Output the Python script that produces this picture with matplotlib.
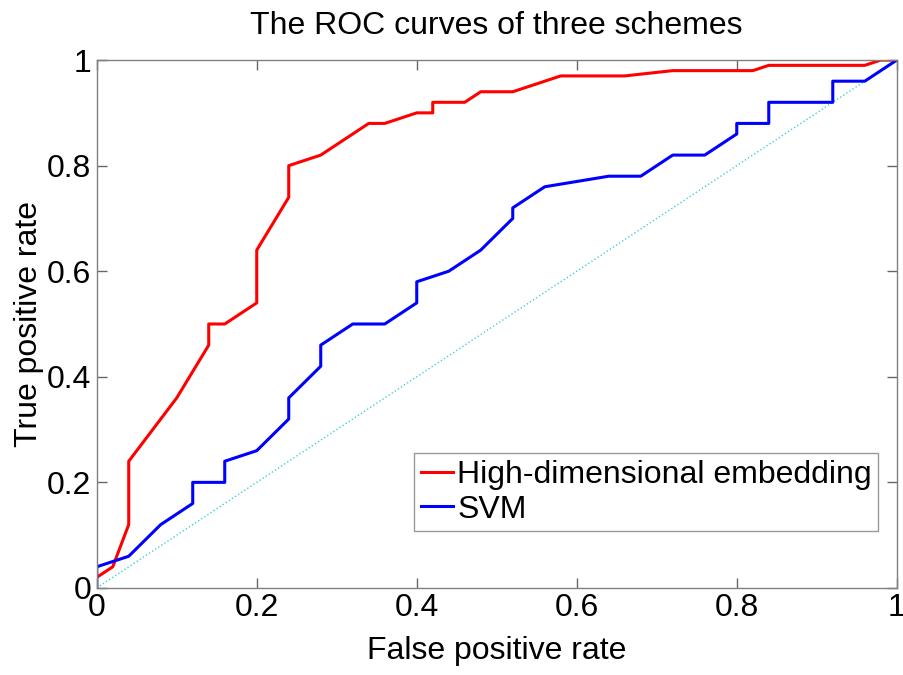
import numpy as np
import matplotlib.pyplot as plt

# ROC points
fpr_hde = [0, 0.02, 0.04, 0.04, 0.10, 0.14, 0.14, 0.16, 0.20, 0.20, 0.24, 0.24, 0.28, 0.34, 0.36,
           0.40, 0.42, 0.42, 0.46, 0.48, 0.52, 0.58, 0.66, 0.72, 0.82, 0.84, 0.96, 0.98, 1.0]
tpr_hde = [0.02, 0.04, 0.12, 0.24, 0.36, 0.46, 0.50, 0.50, 0.54, 0.64, 0.74, 0.80, 0.82, 0.88, 0.88,
           0.90, 0.90, 0.92, 0.92, 0.94, 0.94, 0.97, 0.97, 0.98, 0.98, 0.99, 0.99, 1.0, 1.0]

fpr_svm = [0, 0, 0.04, 0.08, 0.12, 0.12, 0.16, 0.16, 0.20, 0.24, 0.24, 0.28, 0.28, 0.32, 0.36,
           0.40, 0.40, 0.44, 0.48, 0.52, 0.52, 0.56, 0.64, 0.68, 0.72, 0.76, 0.80, 0.80, 0.84,
           0.84, 0.92, 0.92, 0.96, 1.0]
tpr_svm = [0, 0.04, 0.06, 0.12, 0.16, 0.20, 0.20, 0.24, 0.26, 0.32, 0.36, 0.42, 0.46, 0.50, 0.50,
           0.54, 0.58, 0.60, 0.64, 0.70, 0.72, 0.76, 0.78, 0.78, 0.82, 0.82, 0.86, 0.88, 0.88,
           0.92, 0.92, 0.96, 0.96, 1.0]

ticks = [0, 0.2, 0.4, 0.6, 0.8, 1]
tick_labels = ['0', '0.2', '0.4', '0.6', '0.8', '1']

plt.rcParams['font.family'] = ['Liberation Sans', 'DejaVu Sans']

fig = plt.figure(figsize=(9.04, 6.75), dpi=100)
ax = fig.add_axes([0.107, 0.129, 0.885, 0.782])

ax.plot([0, 1], [0, 1], ':', color='#40d0d0', lw=1)
ax.plot(fpr_hde, tpr_hde, color='red', lw=2.2, label='High-dimensional embedding')
ax.plot(fpr_svm, tpr_svm, color='blue', lw=2.2, label='SVM')

ax.set_xlim(0, 1)
ax.set_ylim(0, 1)
ax.set_xticks(ticks)
ax.set_xticklabels(tick_labels)
ax.set_yticks(ticks)
ax.set_yticklabels(tick_labels)
ax.tick_params(direction='in', top=True, right=True, length=7, width=1,
               color='#666666', labelsize=23, pad=4)
for s in ax.spines.values():
    s.set_color('#808080')
    s.set_linewidth(1)

ax.set_title('The ROC curves of three schemes', fontsize=23, pad=19)
ax.set_xlabel('False positive rate', fontsize=23, labelpad=9)
ax.set_ylabel('True positive rate', fontsize=23, labelpad=2)

leg = ax.legend(loc='lower right', bbox_to_anchor=(0.977, 0.108), fontsize=23,
                frameon=True, fancybox=False, handlelength=1.0, handletextpad=0.15,
                borderpad=0.2, labelspacing=0.15, borderaxespad=0)
leg.get_frame().set_edgecolor('#808080')
leg.get_frame().set_linewidth(1)

fig.savefig('out.png', dpi=100)
